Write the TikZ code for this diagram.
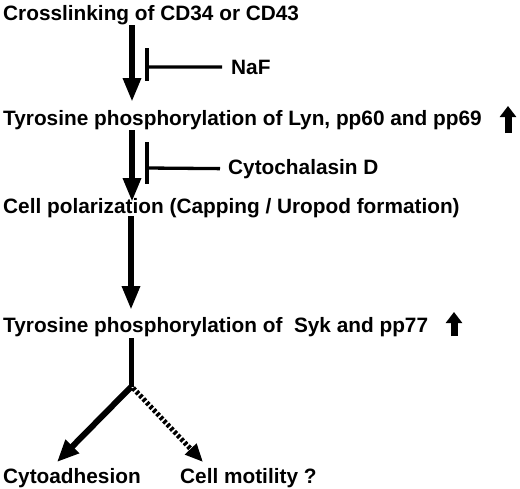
\documentclass[tikz,border=0pt]{standalone}
\usepackage{fontspec}
\setmainfont{Liberation Sans}
\usetikzlibrary{arrows.meta}
\begin{document}
\begin{tikzpicture}[x=1pt,y=-1pt,
  lbl/.style={anchor=base west,inner sep=0pt,font=\fontsize{20.8}{21}\selectfont\bfseries},
  mainarr/.style={line width=6.5pt,-{Triangle[length=24pt,width=17pt]}},
  inhib/.style={line width=3.3pt},
  uparr/.style={line width=7pt,-{Triangle[length=11pt,width=16pt]}}]
\useasboundingbox (0,0) rectangle (520,488);
\node[lbl] (l1) at (3,20) {Crosslinking of CD34 or CD43};
\node[lbl] (naf) at (231,74) {NaF};
\node[lbl] (l2) at (3,125) {Tyrosine phosphorylation of Lyn, pp60 and pp69};
\node[lbl] (cyto) at (228,174) {Cytochalasin D};
\node[lbl] (l3) at (3,213) {Cell polarization (Capping / Uropod formation)};
\node[lbl] (l4) at (3,332) {Tyrosine phosphorylation of\ \ Syk and pp77};
\node[lbl] (l5) at (3,483) {Cytoadhesion};
\node[lbl] (l6) at (180,483) {Cell motility ?};
% main arrows
\coordinate (a1s) at (132,25);  \coordinate (a1e) at (132,102);
\coordinate (a2s) at (132,130); \coordinate (a2e) at (132,202);
\coordinate (a3s) at (131,216); \coordinate (a3e) at (131,310);
\draw[mainarr] (a1s) -- (a1e);
\draw[mainarr] (a2s) -- (a2e);
\draw[mainarr] (a3s) -- (a3e);
% inhibitors
\coordinate (b1) at (147,67);
\draw[inhib] (naf.west) ++(-9,0) -- (b1);
\draw[inhib] (147,48) -- (147,81);
\coordinate (b2) at (147,168);
\draw[inhib] (cyto.west) ++(-8,0) -- (b2);
\draw[inhib] (147,142) -- (147,184);
% up arrows
\draw[uparr] (508,133) -- (508,106);
\draw[uparr] (454,336) -- (454,312);
% branch
\coordinate (fstart) at (131,338);
\coordinate (fork) at (131,387);
\coordinate (t1) at (57,462);
\coordinate (t2) at (203,462);
\draw[line width=5pt] (fstart) -- (fork);
\draw[line width=6pt,-{Triangle[length=22pt,width=18pt]}] (fork) -- (t1);
\draw[line width=5pt,dash pattern=on 3pt off 2pt,-{Triangle[length=18pt,width=15pt]}] (133,388) -- (t2);
\end{tikzpicture}
\end{document}
